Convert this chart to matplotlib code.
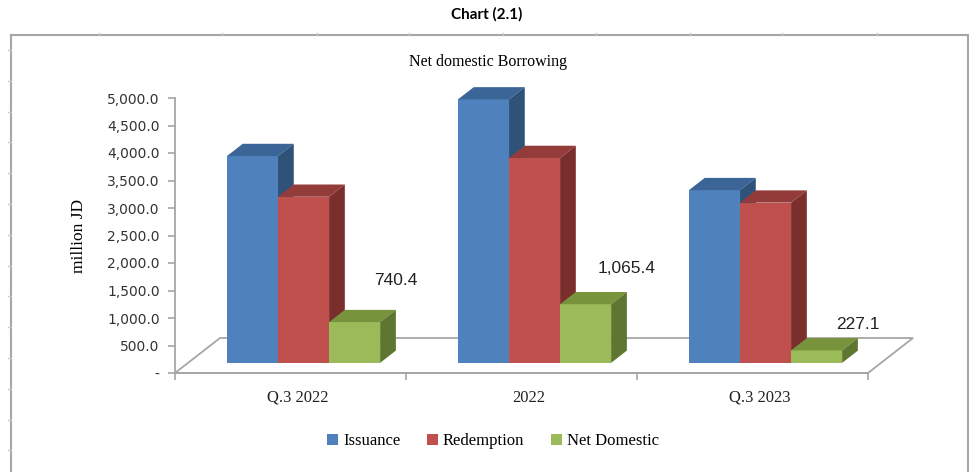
import matplotlib
matplotlib.use('Agg')
import matplotlib.pyplot as plt
from matplotlib.patches import Polygon
from matplotlib.lines import Line2D
from matplotlib.ticker import FuncFormatter, MultipleLocator

# ── Data ──────────────────────────────────────────────────────────────────────
categories   = ['Q.3 2022', '2022', 'Q.3 2023']
series_names = ['Issuance', 'Redemption', 'Net Domestic']
issuance     = [3760.0, 4790.0, 3140.0]
redemption   = [3020.0, 3725.0, 2913.0]
net_domestic = [740.4, 1065.4, 227.1]
net_labels   = ['740.4', '1,065.4', '227.1']

# ── Style ─────────────────────────────────────────────────────────────────────
FRONT = ['#4F81BD', '#C0504D', '#9BBB59']
TOP   = ['#3B6597', '#943C3A', '#77933C']
SIDE  = ['#2F5279', '#7B2F2D', '#5F7630']
GRID  = '#A6A6A6'
SERIF = 'Liberation Serif'

W, H, DPI = 970, 472, 100
fig = plt.figure(figsize=(W / DPI, H / DPI), dpi=DPI)

# plot area: y=0 at px 373, y=5000 at px 98, x from px 175 to 868
ax = fig.add_axes([175 / W, (H - 373) / H, (868 - 175) / W, (373 - 98) / H])
ax.set_xlim(0, 3)
ax.set_ylim(0, 5000)

# depth of the 3D floor, in data units (45 px right, 35 px up)
DX = 45 / 231
DY = 35 / 0.055
d0, d1 = 0.29, 0.64     # bar front / back depth fraction
bw = 0.221              # bar width in category units
label_off = [950, 840, 650]   # data label lift above the green bars

# floor
floor = Polygon([(0, 0), (DX, DY), (3 + DX, DY), (3, 0)], closed=True,
                facecolor='white', edgecolor=GRID, lw=1.3, zorder=1,
                clip_on=False)
ax.add_patch(floor)

series = [issuance, redemption, net_domestic]
z = 3
for gi in range(len(categories)):
    for si, vals in enumerate(series):
        x0 = gi + 0.5 - 1.5 * bw + si * bw + d0 * DX
        y0 = d0 * DY
        v = vals[gi]
        bar = ax.bar(x0, v, width=bw, bottom=y0, align='edge',
                     color=FRONT[si], edgecolor='none', zorder=z,
                     label=series_names[si] if gi == 0 else None)
        bar.patches[0].set_clip_on(False)
        ddx = (d1 - d0) * DX
        ddy = (d1 - d0) * DY
        top = Polygon([(x0, y0 + v), (x0 + ddx, y0 + v + ddy),
                       (x0 + bw + ddx, y0 + v + ddy), (x0 + bw, y0 + v)],
                      closed=True, facecolor=TOP[si], edgecolor='none',
                      zorder=z, clip_on=False)
        side = Polygon([(x0 + bw, y0), (x0 + bw + ddx, y0 + ddy),
                        (x0 + bw + ddx, y0 + v + ddy), (x0 + bw, y0 + v)],
                       closed=True, facecolor=SIDE[si], edgecolor='none',
                       zorder=z, clip_on=False)
        ax.add_patch(top)
        ax.add_patch(side)
        z += 1
        if si == 2:
            ax.text(x0 + bw + ddx, v + label_off[gi], net_labels[gi],
                    ha='center', va='center', fontsize=12.5,
                    family='Liberation Sans', color='#222222', zorder=20)

# axes
for s in ['top', 'right']:
    ax.spines[s].set_visible(False)
for s in ['left', 'bottom']:
    ax.spines[s].set_color(GRID)
    ax.spines[s].set_linewidth(1.3)
    ax.spines[s].set_zorder(2)
ax.patch.set_alpha(0)

ax.yaxis.set_major_locator(MultipleLocator(500))
ax.yaxis.set_major_formatter(FuncFormatter(lambda v, p: '-' if v == 0 else f'{v:,.1f}'))
ax.tick_params(axis='y', direction='out', length=5, color=GRID, width=1.2,
               labelsize=10, pad=6, labelcolor='#333333')
ax.set_xticks([0, 1, 2, 3])
ax.set_xticklabels([])
ax.set_xticks([0.53, 1.53, 2.53], minor=True)
ax.set_xticklabels(categories, minor=True, family=SERIF, fontsize=12)
ax.tick_params(axis='x', which='major', direction='out', length=5,
               color=GRID, width=1.2)
ax.tick_params(axis='x', which='minor', length=0, pad=12, labelcolor='#222222')
for lab in ax.get_yticklabels():
    lab.set_family('DejaVu Sans')

ax.set_ylabel('million JD', family=SERIF, fontsize=12.5)
ax.yaxis.set_label_coords(-88 / (868 - 175), 0.5)

# titles
fig.text(487 / W, 1 - 14 / H, 'Chart (2.1)', ha='center', va='center',
         fontsize=11, fontweight='bold', family='Lato')
fig.text(488 / W, 1 - 62 / H, 'Net domestic Borrowing', ha='center',
         va='center', fontsize=11.5, family=SERIF)

# legend
leg = fig.legend(loc='center', bbox_to_anchor=(493 / W, 1 - 441 / H), ncol=3,
                 frameon=False, prop={'family': SERIF, 'size': 12},
                 handlelength=0.65, handleheight=0.65, handletextpad=0.3,
                 columnspacing=1.6)

# outer frame
fx0, fx1, fy = 11 / W, 968 / W, 1 - 35 / H
fig.add_artist(Line2D([fx0, fx0], [0, fy], color=GRID, lw=1.5))
fig.add_artist(Line2D([fx1, fx1], [0, fy], color=GRID, lw=1.5))
fig.add_artist(Line2D([fx0, fx1], [fy, fy], color=GRID, lw=1.5))
top_marks = [99, 222, 317, 409, 503, 596, 690, 782, 877]
for mx in top_marks:
    fig.add_artist(Line2D([mx / W, mx / W], [fy, fy + 2 / H], color='#C8C8C8', lw=1))
left_marks = [50 + 30.8 * k for k in range(14)]
for my in left_marks:
    fig.add_artist(Line2D([8 / W, fx0], [1 - my / H, 1 - my / H], color='#C8C8C8', lw=1))

fig.savefig('out.png', dpi=DPI)
